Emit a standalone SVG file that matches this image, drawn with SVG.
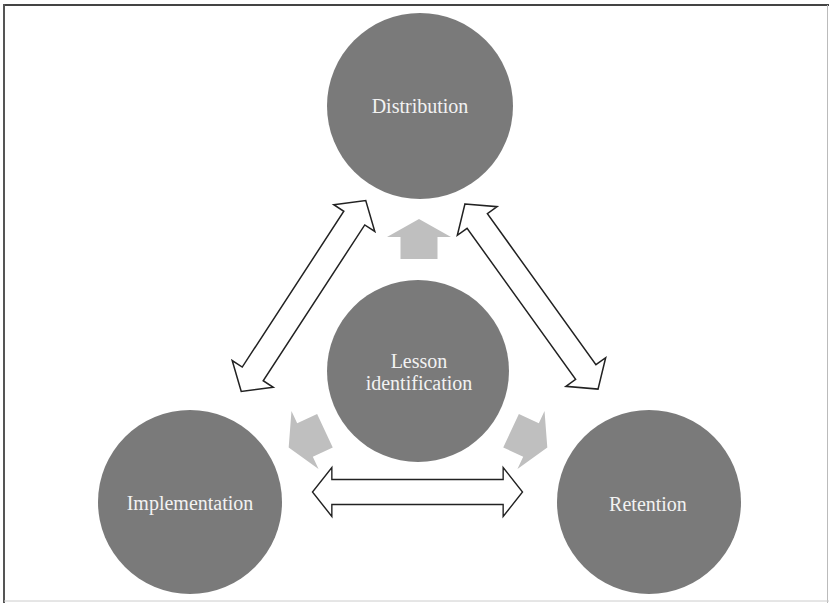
<svg xmlns="http://www.w3.org/2000/svg" width="829" height="603" viewBox="0 0 829 603">
<defs>
<style>
.node{fill:#7a7a7a}
.lbl{font-family:"Liberation Serif","Times New Roman",serif;font-size:20px;fill:#f2f2f2;text-anchor:middle}
.dbl{fill:#ffffff;stroke:#222222;stroke-width:1.5;stroke-linejoin:miter}
.blk{fill:#bfbfbf}
</style>
<path id="dbl" d="M0,0 L21,-24.5 L21,-12.5 L207,-12.5 L207,-24.5 L228,0 L207,24.5 L207,12.5 L21,12.5 L21,24.5 Z"/>
<path id="blk" d="M18,0 L0,-32 L0,-18.5 L-22,-18.5 L-22,18.5 L0,18.5 L0,32 Z"/>
</defs>
<rect width="829" height="603" fill="#ffffff"/>
<line x1="4" y1="5" x2="829" y2="5" stroke="#444" stroke-width="2"/>
<line x1="4" y1="4" x2="4" y2="603" stroke="#555" stroke-width="2"/>
<line x1="827.5" y1="5" x2="827.5" y2="603" stroke="#bbb" stroke-width="1"/>
<line x1="4" y1="601" x2="829" y2="601" stroke="#ccc" stroke-width="1"/>

<g id="connectors">
<use href="#dbl" class="dbl" transform="translate(303.5,296) rotate(-56.9) translate(-114,0)"/>
<use href="#dbl" class="dbl" transform="translate(531.5,296.5) rotate(54.3) translate(-114,0)"/>
<use href="#dbl" class="dbl" transform="translate(417.5,492) scale(0.921,1) translate(-114,0)"/>
<use href="#blk" class="blk" transform="translate(419,237) rotate(-90)"/>
<use href="#blk" class="blk" transform="translate(305,440) rotate(155)"/>
<use href="#blk" class="blk" transform="translate(531,440) rotate(25)"/>
</g>

<g id="distribution">
<circle class="node" cx="420" cy="106" r="93"/>
<text class="lbl" x="420" y="113">Distribution</text>
</g>
<g id="lesson">
<circle class="node" cx="418" cy="371" r="91"/>
<text class="lbl" x="419" y="368">Lesson</text>
<text class="lbl" x="419" y="390">identification</text>
</g>
<g id="implementation">
<circle class="node" cx="190" cy="502" r="92"/>
<text class="lbl" x="190" y="510">Implementation</text>
</g>
<g id="retention">
<circle class="node" cx="649" cy="502" r="92"/>
<text class="lbl" x="648" y="511">Retention</text>
</g>
</svg>
